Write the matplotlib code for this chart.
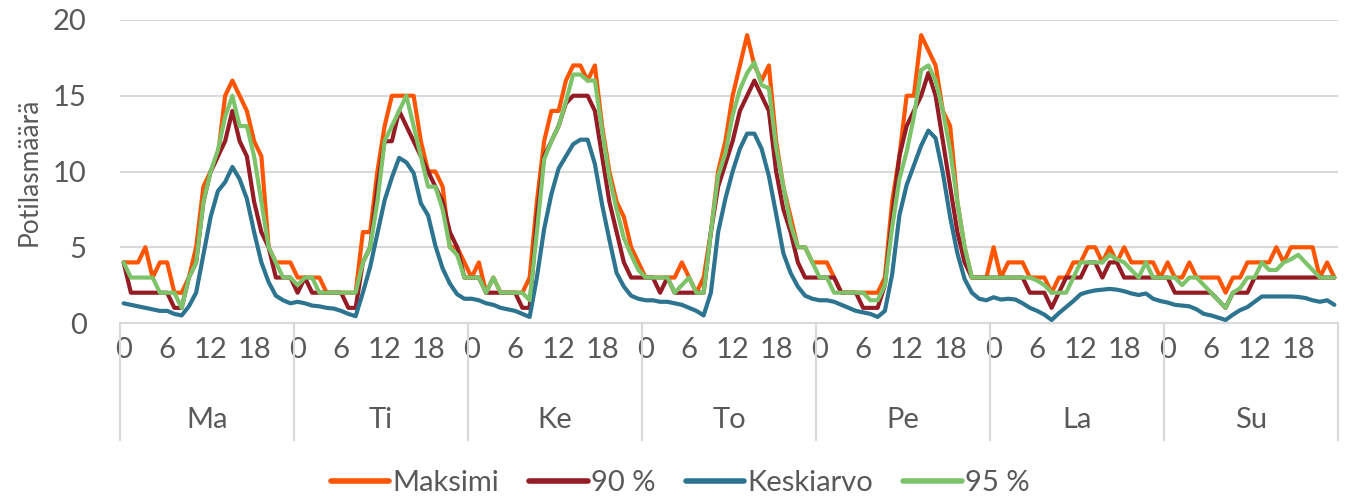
import matplotlib
matplotlib.use("Agg")
import matplotlib.pyplot as plt
import matplotlib.transforms as mtransforms
import numpy as np

days = ["Ma", "Ti", "Ke", "To", "Pe", "La", "Su"]
hour_ticks = [0, 6, 12, 18]
series_names = ["Maksimi", "90 %", "Keskiarvo", "95 %"]

maksimi = [
    4, 4, 4, 5, 3, 4, 4, 2, 2, 3, 5, 9, 10, 11, 15, 16, 15, 14, 12, 11, 5, 4, 4, 4,
    3, 3, 3, 3, 2, 2, 2, 2, 2, 6, 6, 10, 13, 15, 15, 15, 15, 12, 10, 10, 9, 5, 5, 4,
    3, 4, 2, 3, 2, 2, 2, 2, 3, 8, 12, 14, 14, 16, 17, 17, 16, 17, 13, 10, 8, 7, 5, 4,
    3, 3, 3, 3, 3, 4, 3, 2, 3, 6, 10, 12, 15, 17, 19, 17, 16, 17, 12, 9, 7, 5, 5, 4,
    4, 4, 3, 2, 2, 2, 2, 2, 2, 3, 8, 11, 15, 15, 19, 18, 17, 14, 13, 8, 5, 3, 3, 3,
    5, 3, 4, 4, 4, 3, 3, 3, 2, 3, 3, 4, 4, 5, 5, 4, 5, 4, 5, 4, 4, 4, 4, 3,
    4, 3, 3, 4, 3, 3, 3, 3, 2, 3, 3, 4, 4, 4, 4, 5, 4, 5, 5, 5, 5, 3, 4, 3,
]
p90 = [
    4, 2, 2, 2, 2, 2, 2, 1, 1, 3, 4, 8, 10, 11, 12, 14, 12, 11, 8, 6, 5, 3, 3, 3,
    2, 3, 2, 2, 2, 2, 2, 1, 1, 4, 5, 9, 12, 12, 14, 13, 12, 11, 10, 9, 8, 6, 5, 3,
    3, 3, 2, 2, 2, 2, 2, 1, 1, 7, 11, 12, 13, 14.5, 15, 15, 15, 14, 11, 8, 6, 4, 3, 3,
    3, 3, 2, 3, 2, 2, 2, 2, 2, 6, 9, 10.5, 12, 14, 15, 16, 15, 14, 10, 7.5, 6, 4, 3, 3,
    3, 3, 3, 2, 2, 2, 1, 1, 1, 2.5, 7, 11, 13, 14, 15, 16.5, 15, 12, 9, 6, 4, 3, 3, 3,
    3, 3, 3, 3, 3, 2, 2, 2, 1, 2, 3, 3, 3, 4, 4, 3, 4, 4, 3, 3, 3, 3, 3, 3,
    3, 2, 2, 2, 2, 2, 2, 1.5, 1, 2, 2, 2, 3, 3, 3, 3, 3, 3, 3, 3, 3, 3, 3, 3,
]
keskiarvo = [
    1.3, 1.2, 1.1, 1.0, 0.9, 0.8, 0.8, 0.6, 0.5, 1.1, 2.0, 4.5, 7.0, 8.7, 9.3, 10.3, 9.5, 8.2, 6.0, 4.0, 2.7, 1.8, 1.5, 1.3,
    1.4, 1.3, 1.15, 1.1, 1.0, 0.95, 0.8, 0.6, 0.45, 2.0, 3.7, 5.9, 8.1, 9.6, 10.9, 10.6, 9.9, 7.9, 7.1, 5.1, 3.6, 2.6, 1.9, 1.6,
    1.6, 1.5, 1.3, 1.2, 1.0, 0.9, 0.8, 0.6, 0.4, 3.0, 6.2, 8.5, 10.2, 11.0, 11.8, 12.1, 12.1, 10.5, 7.8, 5.5, 3.3, 2.4, 1.8, 1.6,
    1.5, 1.5, 1.4, 1.4, 1.3, 1.2, 1.0, 0.8, 0.5, 2.0, 6.0, 8.2, 10.0, 11.5, 12.5, 12.5, 11.5, 9.7, 7.2, 4.6, 3.3, 2.4, 1.8, 1.6,
    1.5, 1.5, 1.4, 1.2, 1.0, 0.8, 0.7, 0.6, 0.4, 0.8, 3.2, 7.1, 9.1, 10.4, 11.7, 12.7, 12.2, 9.9, 7.0, 4.6, 2.9, 2.0, 1.6, 1.5,
    1.7, 1.55, 1.6, 1.55, 1.3, 1.0, 0.8, 0.55, 0.2, 0.65, 1.05, 1.45, 1.9, 2.05, 2.15, 2.2, 2.25, 2.2, 2.1, 1.95, 1.85, 1.95, 1.6, 1.45,
    1.35, 1.2, 1.15, 1.1, 0.9, 0.6, 0.5, 0.35, 0.2, 0.55, 0.85, 1.05, 1.4, 1.75, 1.75, 1.75, 1.75, 1.75, 1.72, 1.65, 1.5, 1.4, 1.5, 1.2,
]
p95 = [
    4, 3, 3, 3, 3, 2, 2, 2, 1, 3, 4, 8, 10, 11.4, 13.6, 15, 13, 13, 11, 8, 5, 4, 3, 3,
    2.5, 3, 3, 2, 2, 2, 2, 2, 2, 4, 5, 8, 12, 13, 14, 15, 13, 11, 9, 9, 7.5, 5, 4.5, 3,
    3, 3, 2, 3, 2, 2, 2, 2, 1.5, 6, 10.8, 12, 13, 14.6, 16.4, 16.4, 16, 16, 12.7, 9.6, 7.5, 5.6, 4.5, 3.5,
    3, 3, 3, 3, 2, 2.5, 3, 2, 2, 6, 9.7, 11.2, 13.7, 15.4, 16.5, 17.2, 15.7, 15.5, 11.6, 9, 6.5, 5, 5, 4,
    3, 3, 2, 2, 2, 2, 2, 1.5, 1.5, 2.5, 6.3, 9.5, 11.3, 13.6, 16.7, 17, 16, 14, 11.4, 8, 5, 3, 3, 3,
    3, 3, 3, 3, 3, 3, 2.8, 2.5, 2, 2, 2, 3, 4, 4, 4, 4, 4.5, 4.2, 4, 3.5, 3, 4, 3, 3,
    3, 3, 2.5, 3, 3, 2.5, 2, 1.5, 1, 2, 2.3, 3, 3, 4, 3.5, 3.5, 4, 4.2, 4.5, 4, 3.5, 3, 3, 3,
]

colors = ["#FF5500", "#951B24", "#2C7490", "#7DC36A"]
text_color = "#595959"
grid_color = "#D9D9D9"

plt.rcParams["font.family"] = ["Lato", "DejaVu Sans"]

W, H = 1345, 497
fig = plt.figure(figsize=(W / 100, H / 100), dpi=100)
left, right, top, bottom = 120, 1338, 20, 323
ax = fig.add_axes([left / W, 1 - bottom / H, (right - left) / W, (bottom - top) / H])

n = len(maksimi)
x = np.arange(n)
for vals, name, c in zip([maksimi, p90, keskiarvo, p95], series_names, colors):
    ax.plot(x, vals, color=c, lw=3.0, label=name, solid_joinstyle="round",
            solid_capstyle="round", zorder=3)

ax.set_xlim(-0.5, n - 0.5)
ax.set_ylim(0, 20)
ax.set_yticks([0, 5, 10, 15, 20])
ax.set_yticklabels(["0", "5", "10", "15", "20"])
ax.yaxis.grid(True, color=grid_color, lw=1.5, zorder=0)
ax.set_axisbelow(True)

ticks = [d * 24 + h for d in range(len(days)) for h in hour_ticks]
labels = [str(h) for d in range(len(days)) for h in hour_ticks]
ax.set_xticks(ticks)
ax.set_xticklabels(labels)
ax.tick_params(axis="both", length=0, labelsize=21, colors=text_color)
ax.tick_params(axis="x", pad=10)
ax.tick_params(axis="y", pad=24)

for s in ["top", "right", "left"]:
    ax.spines[s].set_visible(False)
ax.spines["bottom"].set_color(grid_color)
ax.spines["bottom"].set_linewidth(1.5)

trans = mtransforms.blended_transform_factory(ax.transData, ax.transAxes)
sep_bottom = -(440 - bottom) / (bottom - top)
for d in range(len(days) + 1):
    xs = d * 24 - 0.5
    ax.plot([xs, xs], [0, sep_bottom], transform=trans, color=grid_color,
            lw=1.5, clip_on=False, zorder=1)
label_y = -(420 - bottom) / (bottom - top)
for d, name in enumerate(days):
    ax.text(d * 24 + 11.5, label_y, name, transform=trans, ha="center",
            va="center", fontsize=21, color=text_color)

ax.set_ylabel("Potilasmäärä", fontsize=19, color=text_color, labelpad=8)

leg = fig.legend(loc="center", bbox_to_anchor=(680 / W, 1 - 483 / H), ncol=4,
                 frameon=False, fontsize=21, handlelength=2.0, handletextpad=0.1,
                 columnspacing=1.05, labelcolor=text_color)
for line in leg.get_lines():
    line.set_linewidth(4)

fig.savefig("out.png", dpi=100)
